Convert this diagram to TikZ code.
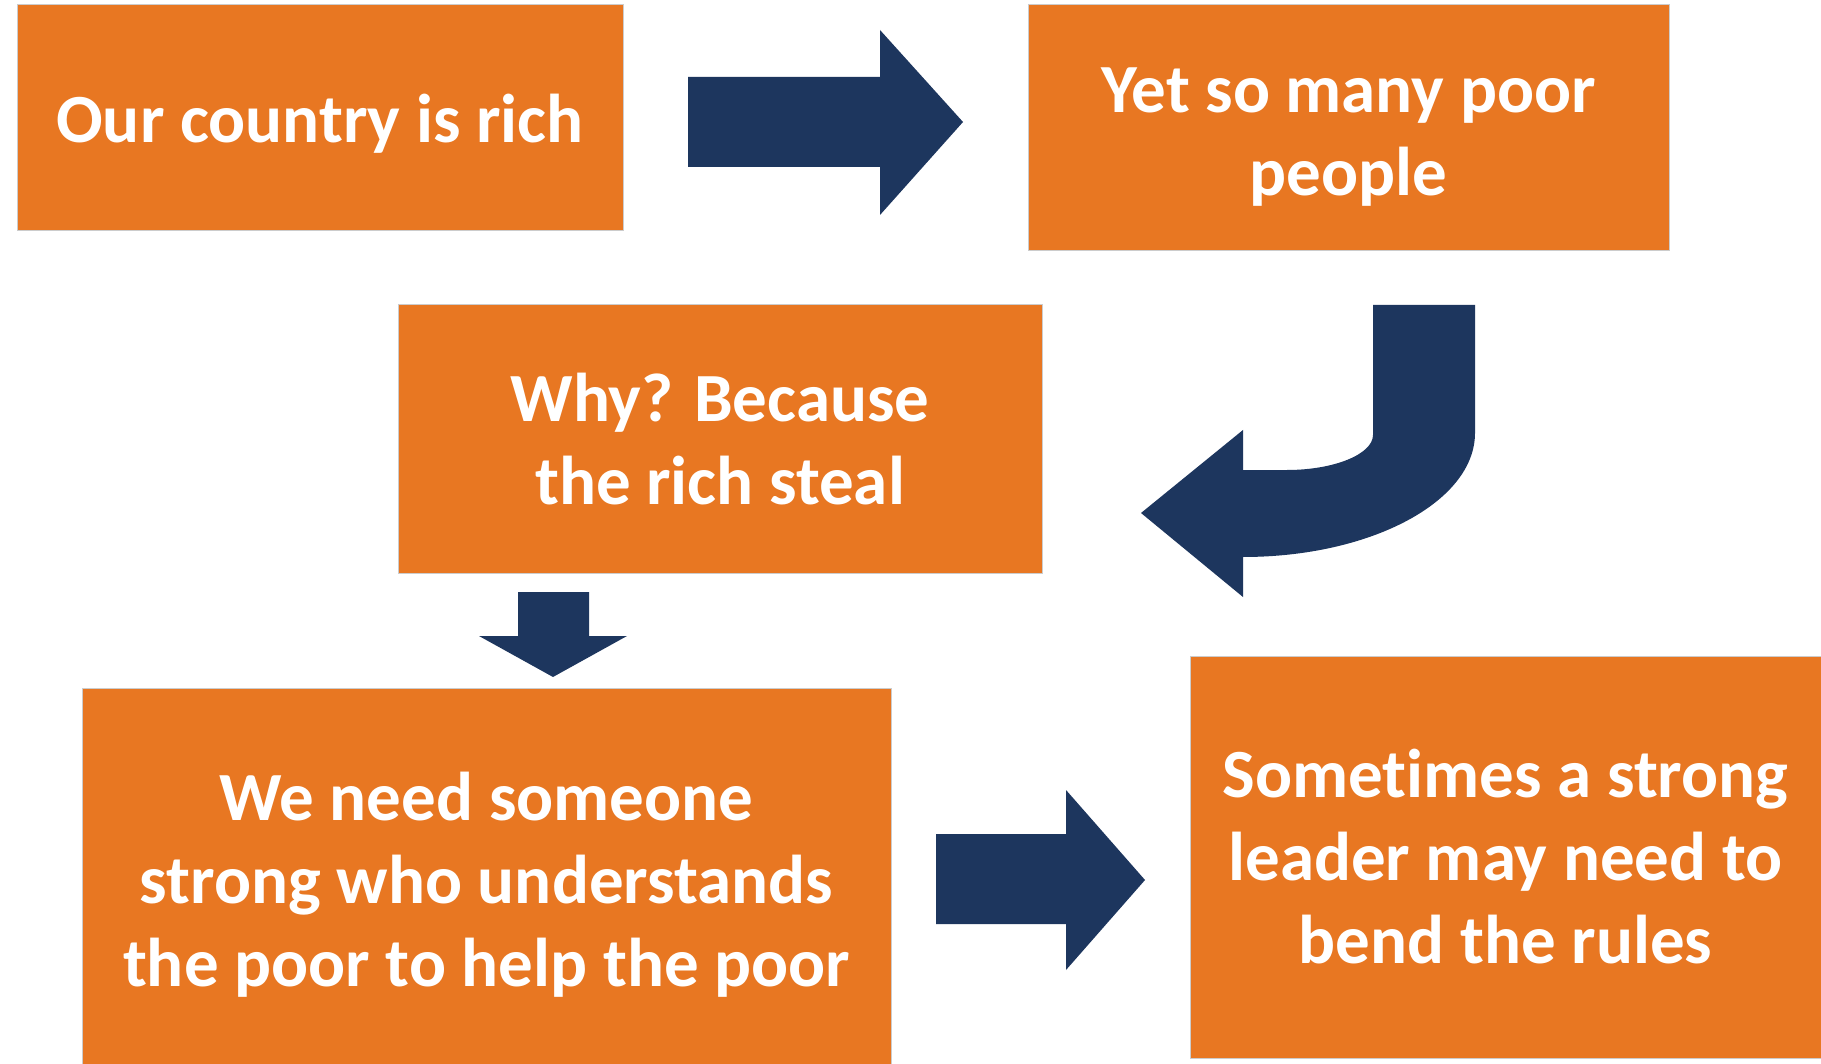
\documentclass[tikz,border=0pt]{standalone}
\usepackage{fontspec}
\setmainfont{Carlito}[Ligatures=NoCommon]
\usepackage{tikz}
\usetikzlibrary{shapes}
\definecolor{boxorange}{RGB}{232,119,34}
\definecolor{arrowblue}{RGB}{29,54,94}

\begin{document}
\begin{tikzpicture}[x=1pt,y=-1pt]
 \tikzstyle{orangebox}=[fill=boxorange,draw=black!20,line width=1pt,inner sep=0pt]
 \tikzstyle{boxtext}=[text=white,align=center,inner sep=0pt,font=\fontsize{69}{83}\selectfont\bfseries]
 \tikzstyle{bigarrow}=[fill=arrowblue]

   \fill[white] (0,0) rectangle (1821,1064);
   \useasboundingbox (0,0) rectangle (1821,1064);

   \node[orangebox,minimum width=606pt,minimum height=226pt,label={[boxtext,yshift=-6pt]center:Our country is rich}] (rich) at (320,118) {};
   \node[orangebox,minimum width=641pt,minimum height=246pt,label={[boxtext,yshift=-9pt]center:{Yet so many poor\\people}}] (poor) at (1348.5,128) {};
   \node[orangebox,minimum width=644pt,minimum height=268pt,label={[boxtext]center:{Why? Because\\the rich steal}}] (steal) at (720,439) {};
   \node[orangebox,minimum width=809pt,minimum height=376pt,label={[boxtext,yshift=-9pt]center:{We need someone\\strong who understands\\the poor to help the poor}}] (someone) at (486.5,876) {};
   \node[orangebox,minimum width=631pt,minimum height=402pt,label={[boxtext]center:{Sometimes a strong\\leader may need to\\bend the rules}}] (rules) at (1505.5,857) {};

   % rich -> poor
   \path[bigarrow] (688,77) -- (880,77) -- (880,30) -- (963,122) -- (880,215) -- (880,167) -- (688,167) -- cycle;
   % poor -> steal
   \path[bigarrow] (1373,305) -- (1475,305) -- (1475,433)
     .. controls (1475,501.5) and (1371,557) .. (1243,557)
     -- (1243,597) -- (1141,513) -- (1243,430) -- (1243,470) -- (1287,470)
     .. controls (1334.5,470) and (1373,454) .. (1373,435) -- cycle;
   % steal -> someone
   \path[bigarrow] (518,592) -- (589,592) -- (589,636) -- (627,636) -- (553,677) -- (479,636) -- (518,636) -- cycle;
   % someone -> rules
   \path[bigarrow] (936,834) -- (1066,834) -- (1066,790) -- (1145,880) -- (1066,970) -- (1066,924) -- (936,924) -- cycle;

\end{tikzpicture}
\end{document}
